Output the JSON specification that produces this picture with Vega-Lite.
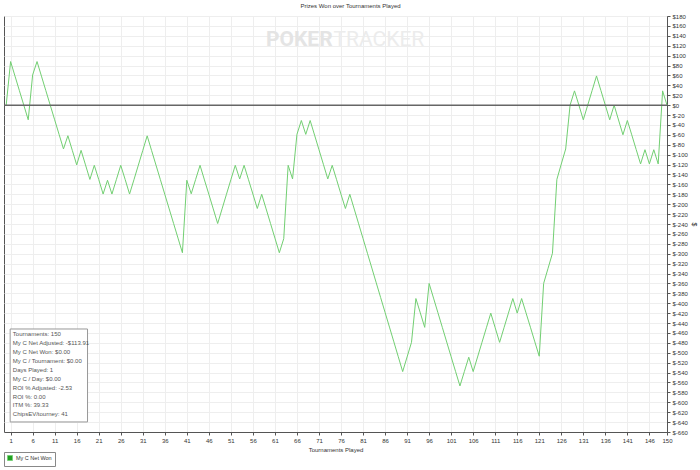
{
  "$schema": "https://vega.github.io/schema/vega-lite/v6.json",
  "width": 663,
  "height": 416,
  "autosize": "none",
  "padding": {"left": 4, "top": 16, "right": 33, "bottom": 38},
  "background": "white",
  "title": {"text": "Prizes Won over Tournaments Played", "fontSize": 6, "font": "Liberation Sans", "fontWeight": "normal", "color": "#333333", "anchor": "middle", "frame": "group", "dx": 15, "offset": 4},
  "config": {
    "view": {"stroke": "#555555", "strokeWidth": 1},
    "font": "Liberation Sans",
    "axis": {"grid": true, "gridColor": "#eeeeee", "domainColor": "#555555", "tickColor": "#555555", "tickSize": 3, "labelFontSize": 6, "labelColor": "#333333", "labelPadding": 2, "labelFlush": false, "labelOverlap": false, "titleFontSize": 6, "titleFontWeight": "normal", "titleColor": "#333333", "titlePadding": 3},
    "axisY": {"titleFontSize": 7, "titleAngle": 90}
  },
  "data": {"values": [
    {"t":0,"v":0},{"t":1,"v":88},{"t":2,"v":58.6},{"t":3,"v":29.2},{"t":4,"v":-0.2},{"t":5,"v":-29.6},{"t":6,"v":61},{"t":7,"v":88},{"t":8,"v":58.6},{"t":9,"v":29.2},
    {"t":10,"v":-0.2},{"t":11,"v":-29.6},{"t":12,"v":-59},{"t":13,"v":-88.4},{"t":14,"v":-61.8},{"t":15,"v":-91.2},{"t":16,"v":-120.6},{"t":17,"v":-91.3},{"t":18,"v":-120.6},{"t":19,"v":-150},
    {"t":20,"v":-121.5},{"t":21,"v":-150},{"t":22,"v":-179.5},{"t":23,"v":-151.7},{"t":24,"v":-179.5},{"t":25,"v":-150.5},{"t":26,"v":-121.5},{"t":27,"v":-150},{"t":28,"v":-179.5},{"t":29,"v":-150.5},
    {"t":30,"v":-121},{"t":31,"v":-91.5},{"t":32,"v":-62},{"t":33,"v":-91.5},{"t":34,"v":-121},{"t":35,"v":-150.5},{"t":36,"v":-180},{"t":37,"v":-209.5},{"t":38,"v":-239},{"t":39,"v":-268.5},
    {"t":40,"v":-298},{"t":41,"v":-151.7},{"t":42,"v":-179},{"t":43,"v":-150},{"t":44,"v":-121.5},{"t":45,"v":-151},{"t":46,"v":-180},{"t":47,"v":-209.5},{"t":48,"v":-239},{"t":49,"v":-209.5},
    {"t":50,"v":-180},{"t":51,"v":-150.5},{"t":52,"v":-121.5},{"t":53,"v":-149},{"t":54,"v":-121.5},{"t":55,"v":-150.5},{"t":56,"v":-179.5},{"t":57,"v":-208.7},{"t":58,"v":-180},{"t":59,"v":-209.5},
    {"t":60,"v":-239},{"t":61,"v":-268.5},{"t":62,"v":-298},{"t":63,"v":-269.6},{"t":64,"v":-121.5},{"t":65,"v":-149},{"t":66,"v":-59},{"t":67,"v":-31},{"t":68,"v":-59},{"t":69,"v":-31},
    {"t":70,"v":-60.5},{"t":71,"v":-90},{"t":72,"v":-119.5},{"t":73,"v":-149},{"t":74,"v":-121.5},{"t":75,"v":-150.5},{"t":76,"v":-180},{"t":77,"v":-208.7},{"t":78,"v":-180},{"t":79,"v":-209.8},
    {"t":80,"v":-239.6},{"t":81,"v":-269.4},{"t":82,"v":-299.2},{"t":83,"v":-329},{"t":84,"v":-358.8},{"t":85,"v":-388.6},{"t":86,"v":-418.4},{"t":87,"v":-448.2},{"t":88,"v":-478},{"t":89,"v":-508},
    {"t":90,"v":-538},{"t":91,"v":-508.5},{"t":92,"v":-479},{"t":93,"v":-390.5},{"t":94,"v":-419.5},{"t":95,"v":-448.7},{"t":96,"v":-360},{"t":97,"v":-389.6},{"t":98,"v":-419.2},{"t":99,"v":-448.8},
    {"t":100,"v":-478.4},{"t":101,"v":-508},{"t":102,"v":-537.6},{"t":103,"v":-567},{"t":104,"v":-538},{"t":105,"v":-509},{"t":106,"v":-538},{"t":107,"v":-508.5},{"t":108,"v":-479},{"t":109,"v":-449.5},
    {"t":110,"v":-420},{"t":111,"v":-449.5},{"t":112,"v":-479},{"t":113,"v":-449.5},{"t":114,"v":-420},{"t":115,"v":-390.5},{"t":116,"v":-420},{"t":117,"v":-390.5},{"t":118,"v":-419.5},{"t":119,"v":-448.5},
    {"t":120,"v":-478},{"t":121,"v":-507},{"t":122,"v":-360},{"t":123,"v":-329.5},{"t":124,"v":-299},{"t":125,"v":-150},{"t":126,"v":-119},{"t":127,"v":-88.5},{"t":128,"v":0},{"t":129,"v":28.8},
    {"t":130,"v":0},{"t":131,"v":-29.6},{"t":132,"v":0},{"t":133,"v":29.5},{"t":134,"v":59},{"t":135,"v":29.5},{"t":136,"v":0},{"t":137,"v":-29.6},{"t":138,"v":0},{"t":139,"v":-30},
    {"t":140,"v":-59.8},{"t":141,"v":-31},{"t":142,"v":-60},{"t":143,"v":-89.5},{"t":144,"v":-118.7},{"t":145,"v":-90},{"t":146,"v":-118.7},{"t":147,"v":-90},{"t":148,"v":-118.7},{"t":149,"v":28.8},
    {"t":150,"v":0}
  ]},
  "layer": [
    {
      "mark": {"type": "line", "strokeWidth": 1},
      "encoding": {
        "x": {"field": "t", "type": "quantitative", "scale": {"domain": [-0.5, 150], "nice": false, "zero": false},
          "axis": {"title": "Tournaments Played", "values": [1,6,11,16,21,26,31,36,41,46,51,56,61,66,71,76,81,86,91,96,101,106,111,116,121,126,131,136,141,146,150]}},
        "y": {"field": "v", "type": "quantitative", "scale": {"domain": [-660, 180], "nice": false, "zero": false},
          "axis": {"orient": "right", "title": "$", "labelExpr": "'$' + datum.value", "values": [-660,-640,-620,-600,-580,-560,-540,-520,-500,-480,-460,-440,-420,-400,-380,-360,-340,-320,-300,-280,-260,-240,-220,-200,-180,-160,-140,-120,-100,-80,-60,-40,-20,0,20,40,60,80,100,120,140,160,180]}},
        "color": {"datum": "My C Net Won", "scale": {"range": ["#72cf72"]},
          "legend": {"orient": "none", "legendX": 0, "legendY": 436, "title": null, "symbolType": "square", "symbolSize": 25, "labelFontSize": 5.5, "labelColor": "#333333", "padding": 3, "strokeColor": "#888888", "fillColor": "white", "labelOffset": 3,
            "encode": {"symbols": {"update": {"fill": {"value": "#22a022"}, "stroke": {"value": "#222222"}, "strokeWidth": {"value": 0.8}, "opacity": {"value": 1}}}}}}
      }
    },
    {
      "data": {"values": [{"ref": 0}]},
      "mark": {"type": "rule", "color": "#666666", "strokeWidth": 1.5},
      "encoding": {"y": {"field": "ref", "type": "quantitative",
        "axis": {"orient": "right", "title": "$", "labelExpr": "'$' + datum.value", "values": [-660,-640,-620,-600,-580,-560,-540,-520,-500,-480,-460,-440,-420,-400,-380,-360,-340,-320,-300,-280,-260,-240,-220,-200,-180,-160,-140,-120,-100,-80,-60,-40,-20,0,20,40,60,80,100,120,140,160,180]}}}
    },
    {
      "data": {"values": [{"label": "POKER"}]},
      "mark": {"type": "text", "align": "right", "baseline": "middle", "font": "Roboto", "fontWeight": "bold", "fontSize": 21, "color": "#e4e4e4"},
      "encoding": {
        "text": {"field": "label"},
        "x": {"datum": 74.1, "type": "quantitative",
          "axis": {"title": "Tournaments Played", "values": [1,6,11,16,21,26,31,36,41,46,51,56,61,66,71,76,81,86,91,96,101,106,111,116,121,126,131,136,141,146,150]}},
        "y": {"datum": 132, "type": "quantitative",
          "axis": {"orient": "right", "title": "$", "labelExpr": "'$' + datum.value", "values": [-660,-640,-620,-600,-580,-560,-540,-520,-500,-480,-460,-440,-420,-400,-380,-360,-340,-320,-300,-280,-260,-240,-220,-200,-180,-160,-140,-120,-100,-80,-60,-40,-20,0,20,40,60,80,100,120,140,160,180]}}
      }
    },
    {
      "data": {"values": [{"label": "TRACKER"}]},
      "mark": {"type": "text", "align": "left", "baseline": "middle", "font": "Roboto", "fontWeight": "normal", "fontSize": 21, "color": "#ececec"},
      "encoding": {
        "text": {"field": "label"},
        "x": {"datum": 74.3, "type": "quantitative",
          "axis": {"title": "Tournaments Played", "values": [1,6,11,16,21,26,31,36,41,46,51,56,61,66,71,76,81,86,91,96,101,106,111,116,121,126,131,136,141,146,150]}},
        "y": {"datum": 132, "type": "quantitative",
          "axis": {"orient": "right", "title": "$", "labelExpr": "'$' + datum.value", "values": [-660,-640,-620,-600,-580,-560,-540,-520,-500,-480,-460,-440,-420,-400,-380,-360,-340,-320,-300,-280,-260,-240,-220,-200,-180,-160,-140,-120,-100,-80,-60,-40,-20,0,20,40,60,80,100,120,140,160,180]}}
      }
    },
    {
      "data": {"values": [{"box": "stats"}]},
      "mark": {"type": "rect", "fill": "white", "stroke": "#999999", "strokeWidth": 1},
      "encoding": {
        "x": {"datum": 0.9, "type": "quantitative",
          "axis": {"title": "Tournaments Played", "values": [1,6,11,16,21,26,31,36,41,46,51,56,61,66,71,76,81,86,91,96,101,106,111,116,121,126,131,136,141,146,150]}},
        "x2": {"datum": 18.46},
        "y": {"datum": -452, "type": "quantitative",
          "axis": {"orient": "right", "title": "$", "labelExpr": "'$' + datum.value", "values": [-660,-640,-620,-600,-580,-560,-540,-520,-500,-480,-460,-440,-420,-400,-380,-360,-340,-320,-300,-280,-260,-240,-220,-200,-180,-160,-140,-120,-100,-80,-60,-40,-20,0,20,40,60,80,100,120,140,160,180]}},
        "y2": {"datum": -639.7}
      }
    },
    {
      "data": {"values": [{"box": "stats"}]},
      "mark": {"type": "text", "align": "left", "baseline": "top", "fontSize": 6, "lineHeight": 8.9, "color": "#555555",
        "text": ["Tournaments: 150", "My C Net Adjusted: -$113.91", "My C Net Won: $0.00", "My C / Tournament: $0.00", "Days Played: 1", "My C / Day: $0.00", "ROI % Adjusted: -2.53", "ROI %: 0.00", "ITM %: 39.33", "ChipsEV/tourney: 41"]},
      "encoding": {
        "x": {"datum": 1.5, "type": "quantitative",
          "axis": {"title": "Tournaments Played", "values": [1,6,11,16,21,26,31,36,41,46,51,56,61,66,71,76,81,86,91,96,101,106,111,116,121,126,131,136,141,146,150]}},
        "y": {"datum": -456.5, "type": "quantitative",
          "axis": {"orient": "right", "title": "$", "labelExpr": "'$' + datum.value", "values": [-660,-640,-620,-600,-580,-560,-540,-520,-500,-480,-460,-440,-420,-400,-380,-360,-340,-320,-300,-280,-260,-240,-220,-200,-180,-160,-140,-120,-100,-80,-60,-40,-20,0,20,40,60,80,100,120,140,160,180]}}
      }
    }
  ]
}
